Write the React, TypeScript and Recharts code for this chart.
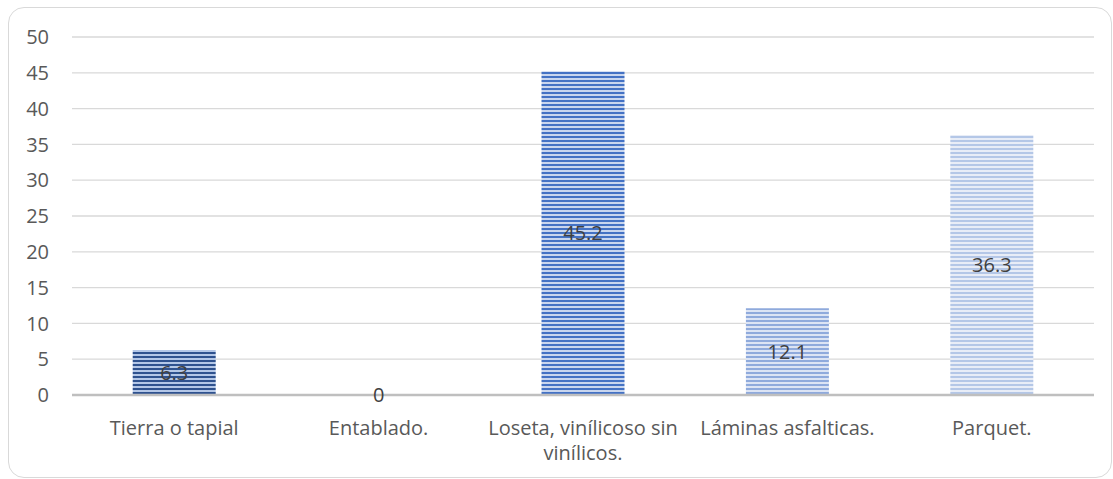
import { ComposedChart, Bar, Line, XAxis, YAxis, CartesianGrid, Cell, LabelList } from "recharts";

// Tipo de material del piso (%)
const categories = [
  "Tierra o tapial",
  "Entablado.",
  "Loseta, vinílicoso sin vinílicos.",
  "Láminas asfalticas.",
  "Parquet.",
];
const values = [6.3, 0, 45.2, 12.1, 36.3];
const yTicks = [0, 5, 10, 15, 20, 25, 30, 35, 40, 45, 50];

// striped fills, darkest to lightest
const stripes = [
  { id: "st0", dark: "#2F528F", light: "#B4C7E7" },
  { id: "st1", dark: "#3A62AE", light: "#BFD0EC" },
  { id: "st2", dark: "#4472C4", light: "#C9D6EE" },
  { id: "st3", dark: "#8FAADC", light: "#DCE4F4" },
  { id: "st4", dark: "#B4C7E7", light: "#E8EDF7" },
];

// "mid" places each value label halfway up its bar (also for the 0 bar)
const data = categories.map((name, i) => ({ name, value: values[i], mid: values[i] / 2 }));

const FONT = "'Open Sans', 'Noto Sans', sans-serif";
const FONT_SIZE = 20;

// rough word wrap: ~0.52em per character
function wrap(label: string, maxWidth: number) {
  const lines: string[] = [];
  let cur = "";
  for (const w of label.split(" ")) {
    const next = cur ? cur + " " + w : w;
    if (cur && next.length * FONT_SIZE * 0.52 > maxWidth) {
      lines.push(cur);
      cur = w;
    } else {
      cur = next;
    }
  }
  if (cur) lines.push(cur);
  return lines;
}

function CategoryTick(props: any) {
  const { x, y, payload } = props;
  const lines = wrap(String(payload.value), 235);
  return (
    <text
      x={x}
      y={y}
      textAnchor="middle"
      fill="#595959"
      style={{ fontSize: FONT_SIZE, fontFamily: FONT }}
    >
      {lines.map((l, i) => (
        <tspan key={i} x={x} dy={i === 0 ? 14 : 25}>
          {l}
        </tspan>
      ))}
    </text>
  );
}

export default function App() {
  return (
    <div style={{ position: "absolute", left: 0, top: 0, width: 1113, height: 479, background: "#fff" }}>
      <div
        style={{
          position: "absolute",
          left: 8,
          top: 7,
          width: 1102,
          height: 469,
          border: "1px solid #D9D9D9",
          borderRadius: 16,
        }}
      />
      <ComposedChart
        width={1113}
        height={479}
        data={data}
        margin={{ top: 37, right: 19, bottom: 54, left: 0 }}
        barCategoryGap="29.7%"
        style={{ position: "absolute", left: 0, top: 0 }}
      >
        <defs>
          {stripes.map((s) => (
            <pattern key={s.id} id={s.id} width={8} height={4} patternUnits="userSpaceOnUse">
              <rect x={0} y={0} width={8} height={4} fill={s.light} />
              <rect x={0} y={0} width={8} height={2} fill={s.dark} />
            </pattern>
          ))}
        </defs>
        <CartesianGrid vertical={false} stroke="#D9D9D9" strokeWidth={1.3} />
        <XAxis
          dataKey="name"
          interval={0}
          tickLine={false}
          axisLine={{ stroke: "#BFBFBF", strokeWidth: 2.5 }}
          tick={<CategoryTick />}
          tickSize={0}
          tickMargin={26}
        />
        <YAxis
          width={72}
          domain={[0, 50]}
          ticks={yTicks}
          interval={0}
          axisLine={false}
          tickLine={false}
          tickSize={0}
          tickMargin={23}
          tick={{ fill: "#595959", fontSize: FONT_SIZE, fontFamily: FONT }}
        />
        <Bar dataKey="value" isAnimationActive={false}>
          {data.map((d, i) => (
            <Cell key={d.name} fill={`url(#${stripes[i].id})`} />
          ))}
        </Bar>
        <Line dataKey="mid" stroke="none" dot={false} activeDot={false} isAnimationActive={false}>
          <LabelList
            dataKey="value"
            position="center"
            fill="#404040"
            style={{ fontSize: FONT_SIZE, fontFamily: FONT }}
          />
        </Line>
      </ComposedChart>
    </div>
  );
}
